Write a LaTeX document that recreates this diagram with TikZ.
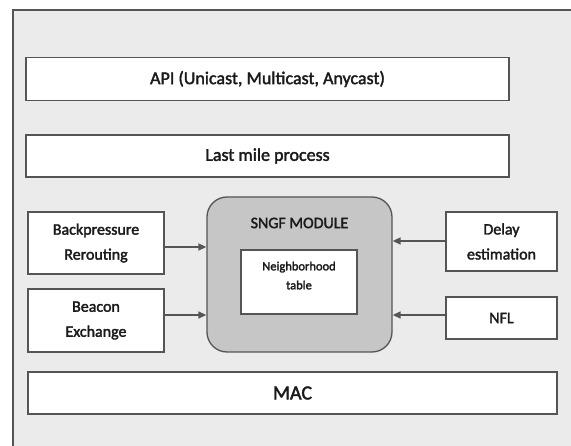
\documentclass[tikz,border=0pt]{standalone}
\usepackage{fontspec}
\setmainfont{Carlito}
\newfontfamily\heavyfont{Carlito}[FakeBold=2]
\usetikzlibrary{arrows.meta}
\definecolor{bgframe}{HTML}{EBEBEB}
\definecolor{edge}{HTML}{555555}
\definecolor{modfill}{HTML}{C6C6C6}
\definecolor{txt}{HTML}{1A1A1A}
\tikzset{
  box/.style={draw=edge, line width=1.3pt, fill=white, text=txt, align=center, inner sep=0pt},
  conn/.style={draw=edge, line width=1.5pt, -{Triangle[length=8pt,width=7pt]}},
}
\begin{document}
\begin{tikzpicture}[x=1pt,y=-1pt]
\useasboundingbox (0,0) rectangle (571,446);
\fill[white] (0,0) rectangle (571,446);
\path[draw=edge, line width=1.3pt, fill=bgframe] (13,10) rectangle (580,460);
\node[box, minimum width=483pt, minimum height=43pt, font=\heavyfont\fontsize{18}{20}\selectfont] (api) at (267.5,79) {API (Unicast, Multicast, Anycast)};
\node[box, minimum width=483pt, minimum height=42pt, font=\heavyfont\fontsize{18}{20}\selectfont] (lmp) at (267.5,156) {Last mile process};
\node[box, minimum width=136pt, minimum height=62pt, font=\heavyfont\fontsize{16}{25}\selectfont] (bp) at (96,243) {Backpressure\\Rerouting};
\node[box, minimum width=136pt, minimum height=63pt, font=\heavyfont\fontsize{16}{25}\selectfont] (be) at (96,320.5) {Beacon\\Exchange};
\node[box, draw=edge, fill=modfill, rounded corners=20pt, minimum width=185pt, minimum height=155pt] (mod) at (299.5,274.5) {};
\node[text=txt, font=\heavyfont\fontsize{16}{18}\selectfont] (modl) at (299.5,223) {SNGF MODULE};
\node[box, minimum width=116pt, minimum height=64pt, font=\heavyfont\fontsize{12.5}{19}\selectfont] (nt) at (299,282) {Neighborhood\\table\\[-6pt]};
\node[box, minimum width=111pt, minimum height=59pt, font=\heavyfont\fontsize{16}{25}\selectfont] (de) at (501.5,241.5) {Delay\\estimation};
\node[box, minimum width=111pt, minimum height=42pt, font=\heavyfont\fontsize{16}{20}\selectfont] (nfl) at (501.5,318) {NFL};
\node[box, minimum width=529pt, minimum height=42pt, font=\heavyfont\fontsize{20}{22}\selectfont] (mac) at (292.5,393) {MAC};
\draw[conn] (bp.east |- 0,247) -- (mod.west |- 0,247);
\draw[conn] (be.east |- 0,315) -- (mod.west |- 0,315);
\draw[conn] (de.west |- 0,241) -- (mod.east |- 0,241);
\draw[conn] (nfl.west |- 0,315) -- (mod.east |- 0,315);
\end{tikzpicture}
\end{document}
